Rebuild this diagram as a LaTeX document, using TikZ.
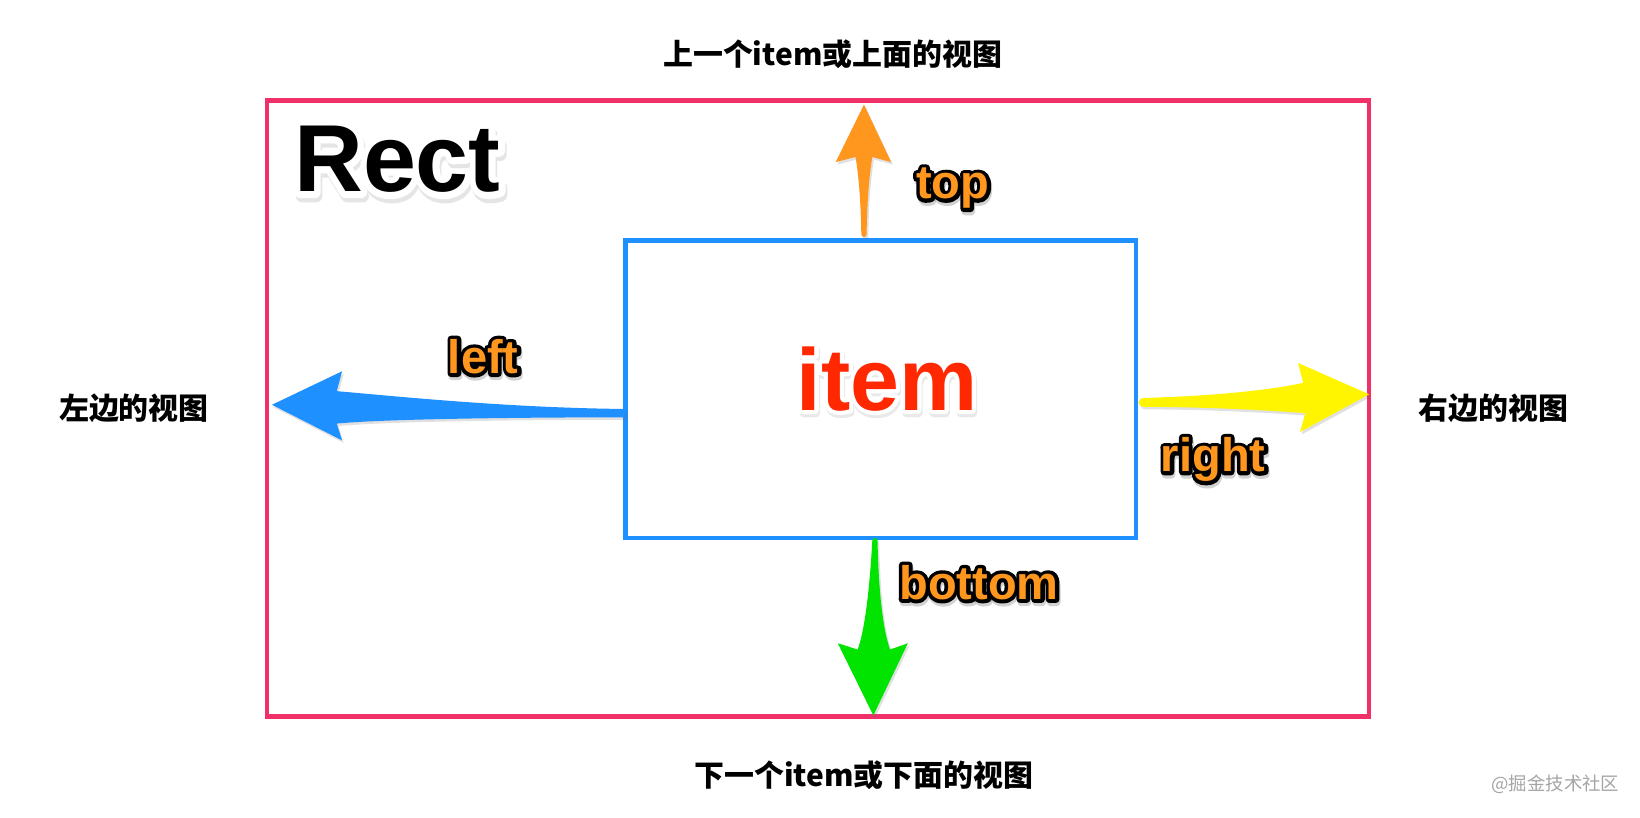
\documentclass[tikz,border=0pt]{standalone}
\usepackage{fontspec}
\setmainfont{Liberation Sans}
\newfontfamily\cjk{Noto Sans CJK SC}
\usetikzlibrary{calc,shadows}

\definecolor{pinkc}{RGB}{240,48,104}
\definecolor{bluec}{RGB}{30,144,255}
\definecolor{orangec}{RGB}{255,150,30}
\definecolor{yellowc}{RGB}{255,245,0}
\definecolor{greenc}{RGB}{0,228,0}
\definecolor{redc}{RGB}{255,40,0}
\definecolor{wmgray}{RGB}{165,165,165}

% text painted as an outline only: #1 stroke width (bp), #2 stroke colour (r g b)
\newcommand\txtstroke[2]{\special{pdf:literal direct #1 w 1 j 1 J #2 RG 1 Tr}}

% #1 name, #2 position, #3 style, #4 text colour, #5 halo rgb, #6 halo width, #7 shadow offset, #8 shadow opacity, #9 text
\newcommand\halotext[9]{%
  \node[#3, text=black, opacity=#8] at ($(#2)+(#7)$) {\txtstroke{#6}{0.3 0.3 0.3}#9};
  \node[#3, text=black] at (#2) {\txtstroke{#6}{#5}#9};
  \node[#3, text=#4] (#1) at (#2) {#9};
}

\begin{document}
\begin{tikzpicture}[x=0.5pt,y=-0.5pt,
  tnode/.style={inner sep=0pt, outer sep=0pt},
  rectlbl/.style={tnode, anchor=base, font=\fontsize{45.5}{45.5}\selectfont\bfseries},
  itemlbl/.style={tnode, anchor=base, font=\fontsize{42}{42}\selectfont\bfseries},
  olbl/.style={tnode, anchor=base, font=\fontsize{22.5}{22.5}\selectfont\bfseries},
  cjklbl/.style={tnode, font=\cjk\bfseries\fontsize{14.3}{14.3}\selectfont, text=black},
  wmlbl/.style={tnode, font=\cjk\fontsize{8.8}{8.8}\selectfont, text=wmgray},
  box/.style={draw, line width=2pt, inner sep=0pt, outer sep=0pt, fill=none},
  arrowshadow/.style={drop shadow={shadow xshift=0.8pt, shadow yshift=-1.2pt, opacity=0.2, fill=black!60}}
]
\useasboundingbox (0,0) rectangle (1568,782);
\fill[white] (0,0) rectangle (1568,782);

% boxes
\node[box, draw=pinkc, minimum width=527pt, minimum height=294.5pt] (outer) at (782,390.5) {};
\node[box, draw=bluec, minimum width=244pt, minimum height=142pt] (itemrect) at (842,372) {};

% arrow end points
\coordinate (topT) at (826,100);
\coordinate (botT) at (835,684);
\coordinate (leftT) at (260,387);
\coordinate (rightT) at (1309,377);

% top arrow (orange)
\fill[orangec, arrowshadow] (topT) -- (852,155) -- (834,150)
  .. controls (830,175) and (829,200) .. (828.5,224)
  arc[start angle=0, end angle=180, radius=2.5]
  .. controls (823,200) and (822,175) .. (818,150) -- (799,155) -- cycle;

% bottom arrow (green)
\fill[greenc, arrowshadow] (834,517) arc[start angle=180, end angle=360, radius=2.5]
  .. controls (840,570) and (845,605) .. (851,621) -- (868,615) -- (botT) -- (801,615) -- (820,621)
  .. controls (826,605) and (831,570) .. (834,517) -- cycle;

% left arrow (blue)
\fill[bluec, arrowshadow] (leftT) -- (327,355) -- (322,374)
  .. controls (360,377) and (480,390) .. (598,391) -- (598,399)
  .. controls (480,399) and (360,401) .. (322,405) -- (327,421) -- cycle;

% right arrow (yellow)
\fill[yellowc, arrowshadow] (1093,380.5) .. controls (1150,379) and (1210,374) .. (1246,366)
  -- (1241,347) -- (rightT) -- (1243,413) -- (1248,395)
  .. controls (1210,392) and (1150,389) .. (1093,389)
  arc[start angle=90, end angle=270, radius=4.25] -- cycle;

% texts
\halotext{rectlabel}{380,183.5}{rectlbl}{black}{1 1 1}{6}{1.5,4}{0.14}{Rect}
\halotext{itemlabel}{848,392}{itemlbl}{redc}{1 1 1}{4}{1,3}{0.12}{item}
\halotext{toplabel}{911,190}{olbl}{orangec}{0 0 0}{3.5}{1,3}{0.25}{top}
\halotext{leftlabel}{462,357}{olbl}{orangec}{0 0 0}{3.5}{1,3}{0.25}{left}
\halotext{rightlabel}{1160,451}{olbl}{orangec}{0 0 0}{3.5}{1,3}{0.25}{right}
\halotext{bottomlabel}{936,573}{olbl}{orangec}{0 0 0}{3.5}{1,3}{0.25}{bottom}

\node[cjklbl] (uplabel) at (796,52) {上一个item或上面的视图};
\node[cjklbl] (downlabel) at (826,741) {下一个item或下面的视图};
\node[cjklbl] (lview) at (128,390) {左边的视图};
\node[cjklbl] (rview) at (1428,390) {右边的视图};

\node[wmlbl] (watermark) at (1487,750) {@掘金技术社区};
\end{tikzpicture}
\end{document}
